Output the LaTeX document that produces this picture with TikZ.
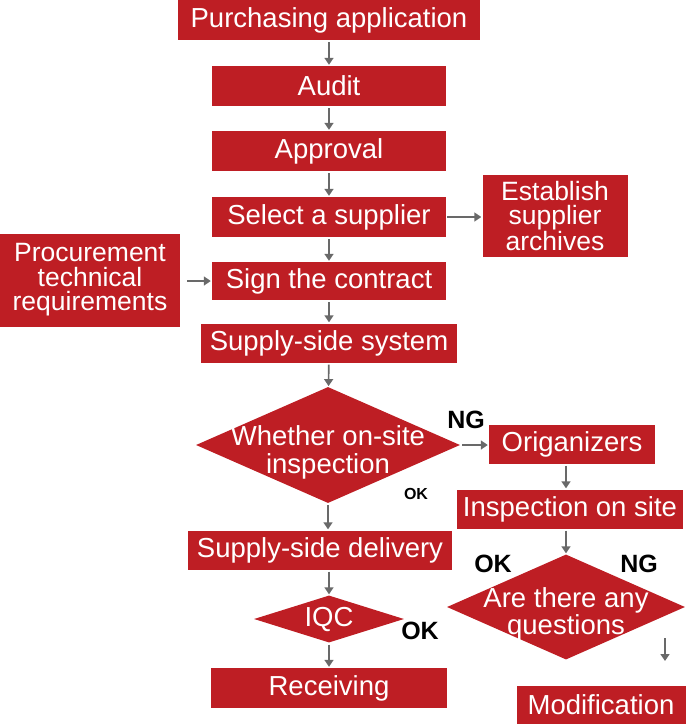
\documentclass[tikz,border=0pt]{standalone}
\usepackage{fontspec}
\setmainfont{Liberation Sans}
\usetikzlibrary{shapes.geometric,arrows.meta}
\definecolor{boxred}{RGB}{190,30,36}
\definecolor{arrowgray}{RGB}{105,105,105}
\tikzset{
  box/.style={shape=rectangle, fill=boxred, text=white, inner sep=0pt, minimum height=39pt, align=center,
    font=\fontsize{27.5}{24}\selectfont},
  choice/.style={shape=diamond, fill=boxred, inner sep=0pt},
  choice text/.style={text=white, inner sep=0pt, align=center, font=\fontsize{27.5}{25}\selectfont},
  mark label/.style={text=black, inner sep=0pt, font=\bfseries\fontsize{25}{25}\selectfont},
  flow/.style={-{Triangle[length=7pt,width=9pt]}, line width=1.6pt, draw=arrowgray, shorten <=2pt, shorten >=1pt}
}
\begin{document}
\begin{tikzpicture}[x=1pt, y=-1pt]
\useasboundingbox (0,0) rectangle (690,724);
\node[box, minimum width=302pt, minimum height=40pt] (purchase) at (329,20) {Purchasing application};
\node[box, minimum width=234pt, minimum height=40pt] (audit) at (329,86) {Audit};
\node[box, minimum width=234pt, minimum height=40pt] (approval) at (329,151) {Approval};
\node[box, minimum width=234pt, minimum height=40pt] (select) at (329,217) {Select a supplier};
\node[box, minimum width=145pt, minimum height=82pt, font=\fontsize{26.5}{24}\selectfont] (archives) at (555,216) {Establish\\supplier\\archives};
\node[box, minimum width=180pt, minimum height=93pt, font=\fontsize{26.5}{24.5}\selectfont] (procure) at (90,280) {Procurement\\technical\\requirements};
\node[box, minimum width=234pt, minimum height=38pt] (contract) at (329,281) {Sign the contract};
\node[box, minimum width=256pt] (system) at (329,343) {Supply-side system};
\node[choice, minimum width=264pt, minimum height=116pt,
  label={[choice text, yshift=-7pt, font=\fontsize{27.5}{28}\selectfont]center:Whether on-site\\inspection}] (whether) at (328,445) {};
\node[box, minimum width=166pt] (organizers) at (572,444) {Origanizers};
\node[box, minimum width=226pt] (inspection) at (570,509) {Inspection on site};
\node[box, minimum width=264pt] (delivery) at (320,550) {Supply-side delivery};
\node[choice, minimum width=150pt, minimum height=47pt,
  label={[choice text]center:IQC}] (iqc) at (329,619) {};
\node[choice, minimum width=238pt, minimum height=105pt,
  label={[choice text, yshift=-7pt]center:Are there any\\questions}] (questions) at (566,607) {};
\node[box, minimum width=236pt, minimum height=40pt] (receiving) at (329,688) {Receiving};
\node[box, minimum width=169pt] (modification) at (601,705) {Modification};
\node[mark label] (ng1) at (466,420) {NG};
\node[mark label, font=\bfseries\fontsize{16}{16}\selectfont] (ok1) at (416,494) {OK};
\node[mark label] (ok2) at (493,564) {OK};
\node[mark label] (ng2) at (639,564) {NG};
\node[mark label] (ok3) at (420,631) {OK};
\coordinate (col left) at (329,0);
\coordinate (col right) at (566,0);
\coordinate (drop top) at (665,638);
\coordinate (drop end) at (665,662);
\path (purchase) edge[flow] (audit);
\path (audit) edge[flow] (approval);
\path (approval) edge[flow] (select);
\path (select) edge[flow, shorten <=1pt] (archives.west |- select);
\path (select) edge[flow] (contract);
\path (procure.east |- contract) edge[flow, shorten <=7pt] (contract);
\path (contract) edge[flow] (system);
\path (system) edge[flow] (whether);
\path (whether.east) edge[flow] (organizers.west |- whether.east);
\path (whether.south) edge[flow] (whether.south |- delivery.north);
\path (organizers.south -| col right) edge[flow] (inspection.north -| col right);
\path (inspection.south -| col right) edge[flow] (questions.north);
\path (delivery.south -| col left) edge[flow] (iqc.north);
\path (iqc) edge[flow] (receiving);
\path (drop top) edge[flow, shorten <=0pt] (drop end);
\end{tikzpicture}
\end{document}
